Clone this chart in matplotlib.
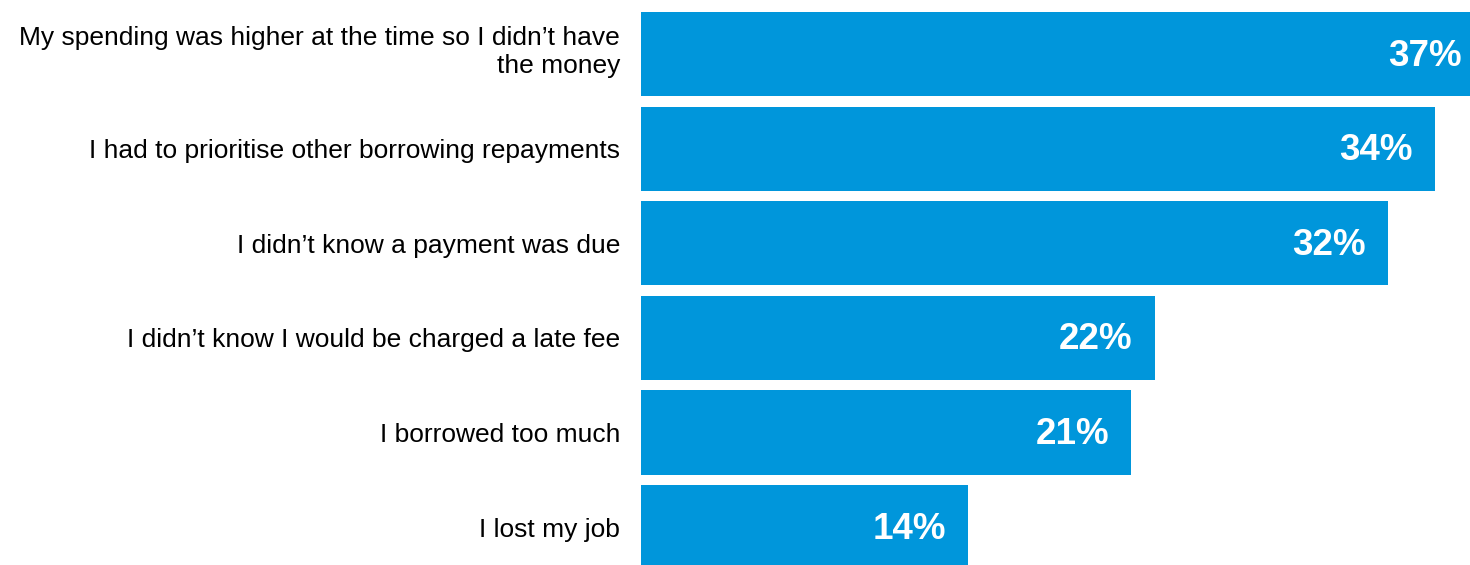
import numpy as np
import matplotlib
matplotlib.use("Agg")
import matplotlib.pyplot as plt

# ---------------------------
# DATA
# ---------------------------
reasons = [
    "My spending was higher at the time so I didn\u2019t have\nthe money",
    "I had to prioritise other borrowing repayments",
    "I didn\u2019t know a payment was due",
    "I didn\u2019t know I would be charged a late fee",
    "I borrowed too much",
    "I lost my job",
]
shares = [37, 34, 32, 22, 21, 14]

BAR_COLOR = "#0096DB"
XMAX = 35.5

plt.rcParams["font.family"] = ["Liberation Sans", "DejaVu Sans"]

# ---------------------------
# PLOT
# ---------------------------
fig = plt.figure(figsize=(14.7, 5.65), dpi=100)
ax = fig.add_axes([641 / 1470, 0, 1 - 641 / 1470, 1])

y = np.arange(len(reasons))
ax.barh(y, shares, height=0.89, color=BAR_COLOR, edgecolor="none")

# category labels left of the bars
for yi, lab in zip(y, reasons):
    dy = 5 if "\n" in lab else 0
    ax.annotate(lab, xy=(0, yi), xytext=(-15, dy), textcoords="offset points",
                ha="right", va="center_baseline", fontsize=19, linespacing=1.25,
                color="black", annotation_clip=False)

# value labels inside bar ends (the longest bar runs off the right edge)
for yi, v in zip(y, shares):
    xpos = min(v, XMAX + 0.6)
    ax.annotate(f"{v}%", xy=(xpos, yi), xytext=(-16, -1.5), textcoords="offset points",
                ha="right", va="center", color="white", fontsize=26.5,
                fontweight="bold", annotation_clip=False)

ax.set_xlim(0, XMAX)
ax.set_ylim(5.40, -0.571)
ax.set_xticks([])
ax.set_yticks([])
for s in ax.spines.values():
    s.set_visible(False)

fig.savefig("out.png", dpi=100)
